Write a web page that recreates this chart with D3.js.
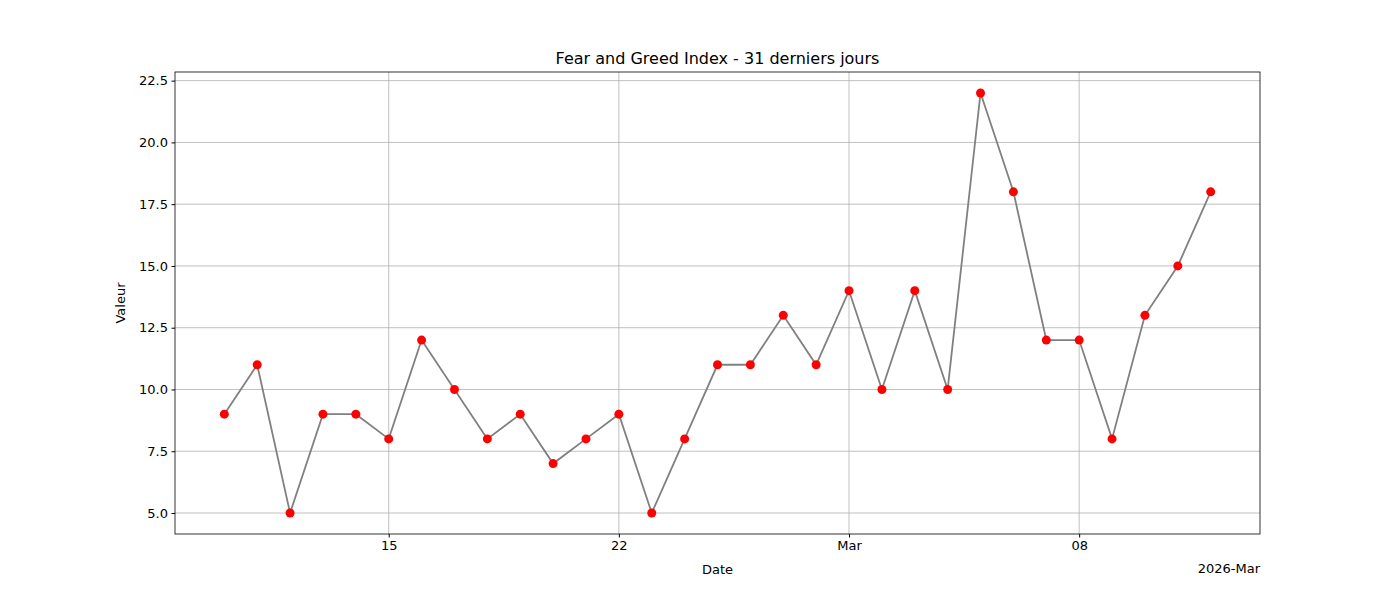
<!DOCTYPE html>
<html><head><meta charset="utf-8">
<script src="https://cdn.jsdelivr.net/npm/d3@7"></script>
<style>body{margin:0;background:#fff;font-family:"DejaVu Sans",sans-serif;}</style>
</head><body><svg id="c" width="1400" height="600"></svg>
<script>
const startDate = "2026-02-10";
const values = [9,11,5,9,9,8,12,10,8,9,7,8,9,5,8,11,11,13,11,14,10,14,10,22,18,12,12,8,13,15,18];
const yTicks = [5.0,7.5,10.0,12.5,15.0,17.5,20.0,22.5];
const xTickDates = ["2026-02-15","2026-02-22","2026-03-01","2026-03-08"];
const xTickLabels = ["15","22","Mar","08"];

const parse = d3.utcParse("%Y-%m-%d");
const s0 = parse(startDate);
const data = values.map((v,i)=>({d:d3.utcDay.offset(s0,i),v}));
const svg = d3.select("#c");
const L=175,R=1260,T=72,B=534;
const x = d3.scaleUtc().domain([d3.utcHour.offset(data[0].d,-36), d3.utcHour.offset(data[30].d,36)]).range([L,R]);
const y = d3.scaleLinear().domain([4.15,22.85]).range([B,T]);

const g = svg.append("g");
// grid
g.selectAll(".gy").data(yTicks).join("line").attr("x1",L).attr("x2",R).attr("y1",d=>y(d)).attr("y2",d=>y(d)).attr("stroke","#b0b0b0").attr("stroke-width",0.8);
g.selectAll(".gx").data(xTickDates).join("line").attr("x1",d=>x(parse(d))).attr("x2",d=>x(parse(d))).attr("y1",T).attr("y2",B).attr("stroke","#b0b0b0").attr("stroke-width",0.8);

const yAxis = d3.axisLeft(y).tickValues(yTicks).tickFormat(d3.format(".1f")).tickSize(3.5).tickPadding(3.5);
svg.append("g").attr("transform",`translate(${L},0)`).call(yAxis).call(a=>{a.select(".domain").remove();a.selectAll("text").attr("font-size",13).attr("font-family","DejaVu Sans").attr("fill","#000");});
const xAxis = d3.axisBottom(x).tickValues(xTickDates.map(parse)).tickFormat((d,i)=>xTickLabels[i]).tickSize(3.5).tickPadding(3.5);
svg.append("g").attr("transform",`translate(0,${B})`).call(xAxis).call(a=>{a.select(".domain").remove();a.selectAll("text").attr("font-size",13).attr("font-family","DejaVu Sans").attr("fill","#000");});

svg.append("path").datum(data).attr("fill","none").attr("stroke","gray").attr("stroke-width",1.8)
  .attr("d",d3.line().x(d=>x(d.d)).y(d=>y(d.v)));
svg.selectAll(".pt").data(data).join("circle").attr("cx",d=>x(d.d)).attr("cy",d=>y(d.v)).attr("r",4.5).attr("fill","red");

svg.append("rect").attr("x",L).attr("y",T).attr("width",R-L).attr("height",B-T).attr("fill","none").attr("stroke","#000").attr("stroke-width",0.8);

svg.append("text").attr("x",(L+R)/2).attr("y",64).attr("text-anchor","middle").attr("font-size",16).text("Fear and Greed Index - 31 derniers jours");
svg.append("text").attr("x",(L+R)/2).attr("y",574).attr("text-anchor","middle").attr("font-size",13).text("Date");
svg.append("text").attr("x",R).attr("y",573).attr("text-anchor","end").attr("font-size",13).text("2026-Mar");
svg.append("text").attr("transform",`translate(125,${(T+B)/2}) rotate(-90)`).attr("text-anchor","middle").attr("font-size",13).text("Valeur");
</script></body></html>
